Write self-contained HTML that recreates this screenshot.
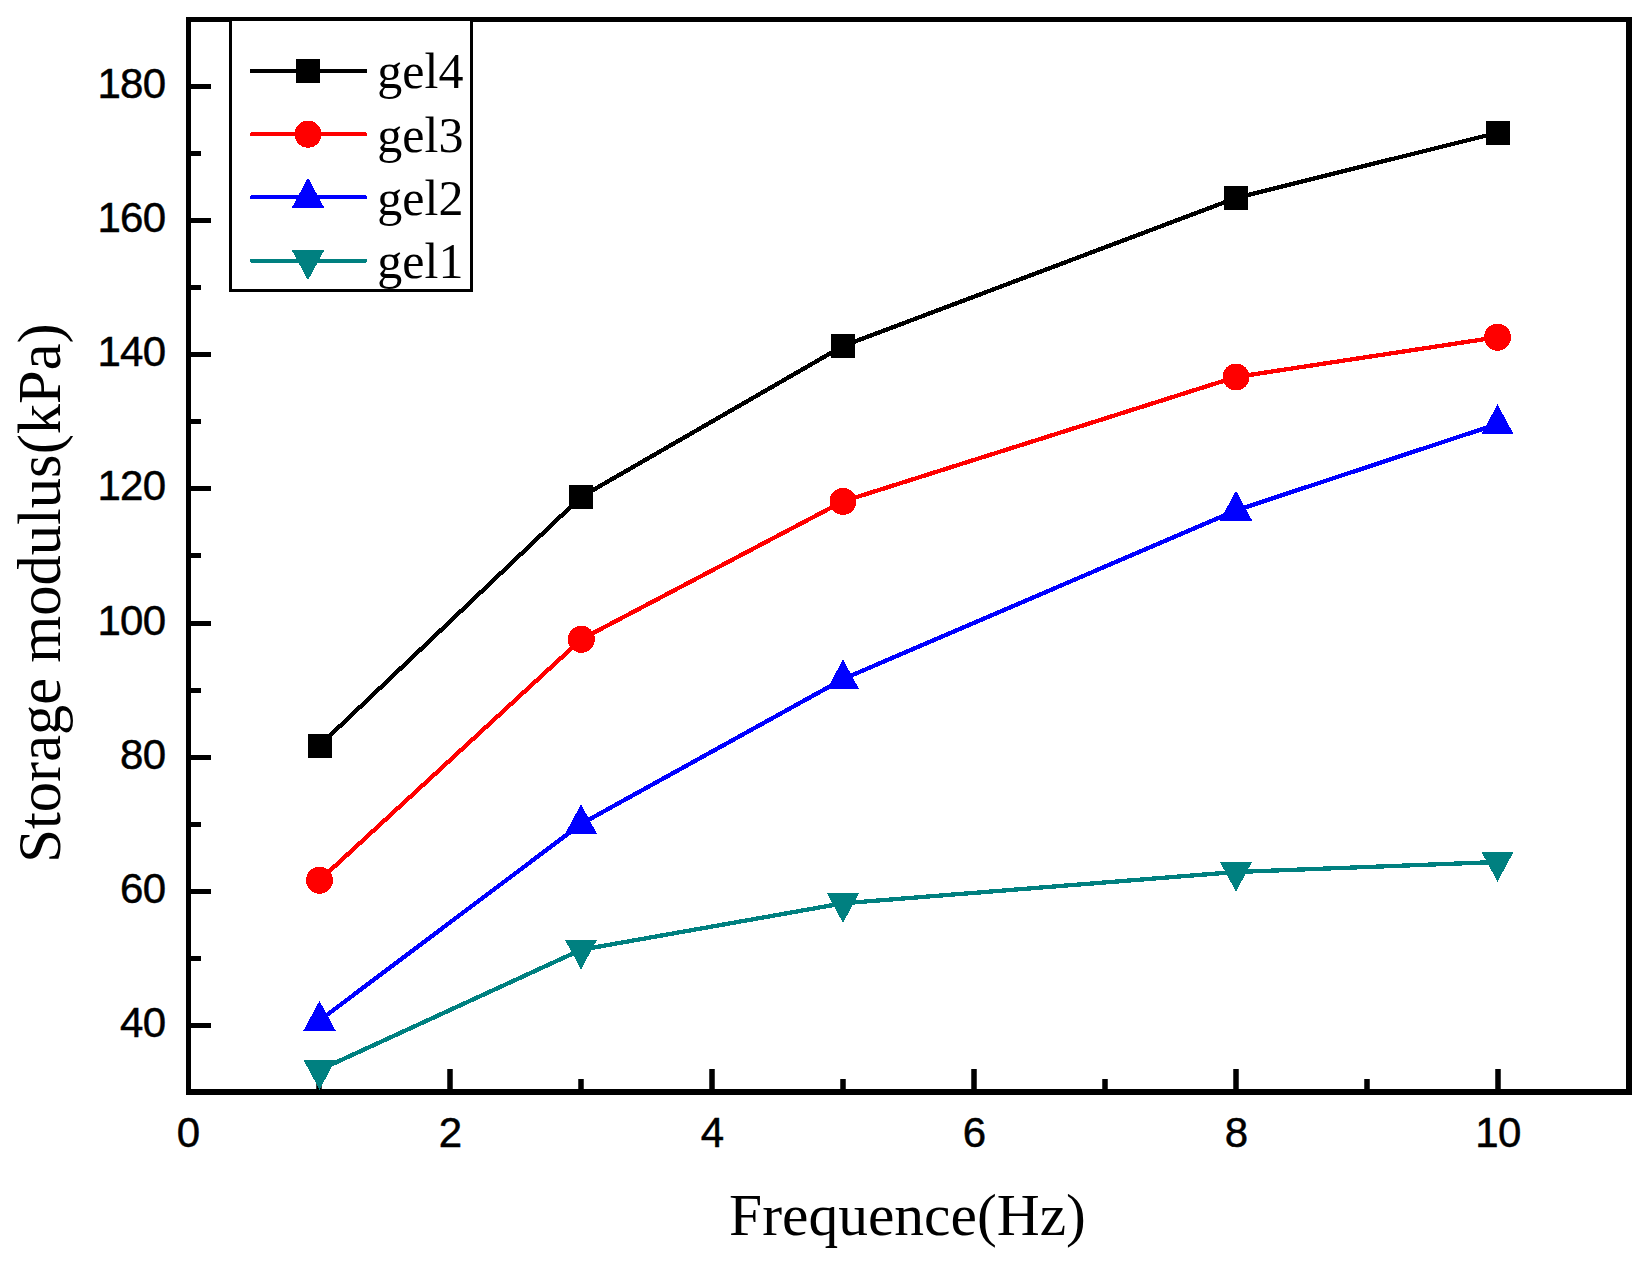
<!DOCTYPE html>
<html lang="en"><head><meta charset="utf-8"><title>Storage modulus vs Frequence</title>
<style>
html,body{margin:0;padding:0;background:#fff;}
body{width:1647px;height:1272px;overflow:hidden;}
svg{display:block;font-kerning:none;}
.tk{font-family:"Liberation Sans",Arial,sans-serif;font-size:42px;fill:#000;stroke:#000;stroke-width:0.5px;letter-spacing:-0.7px;}
.tx{font-family:"Liberation Serif","Times New Roman",serif;font-size:59.5px;fill:#000;}
.ty{font-family:"Liberation Serif","Times New Roman",serif;font-size:60.5px;fill:#000;}
.lg{font-family:"Liberation Serif","Times New Roman",serif;font-size:50px;fill:#000;}
</style></head><body>
<svg width="1647" height="1272" viewBox="0 0 1647 1272">
<rect x="0" y="0" width="1647" height="1272" fill="#fff"/>
<g fill="#000" shape-rendering="crispEdges">
<rect x="186" y="17" width="5" height="1078"/>
<rect x="186" y="17" width="1446" height="5"/>
<rect x="1626" y="17" width="6" height="1078"/>
<rect x="186" y="1089" width="1446" height="6"/>
<rect x="190" y="1023" width="21" height="5"/>
<rect x="190" y="889" width="21" height="5"/>
<rect x="190" y="755" width="21" height="5"/>
<rect x="190" y="621" width="21" height="5"/>
<rect x="190" y="486" width="21" height="5"/>
<rect x="190" y="352" width="21" height="5"/>
<rect x="190" y="218" width="21" height="5"/>
<rect x="190" y="84" width="21" height="5"/>
<rect x="190" y="956" width="11" height="5"/>
<rect x="190" y="822" width="11" height="5"/>
<rect x="190" y="688" width="11" height="5"/>
<rect x="190" y="553" width="11" height="5"/>
<rect x="190" y="419" width="11" height="5"/>
<rect x="190" y="285" width="11" height="5"/>
<rect x="190" y="151" width="11" height="5"/>
<rect x="190" y="17" width="11" height="5"/>
<rect x="447.25" y="1069" width="5.5" height="21" shape-rendering="geometricPrecision"/>
<rect x="709.25" y="1069" width="5.5" height="21" shape-rendering="geometricPrecision"/>
<rect x="971.25" y="1069" width="5.5" height="21" shape-rendering="geometricPrecision"/>
<rect x="1233.25" y="1069" width="5.5" height="21" shape-rendering="geometricPrecision"/>
<rect x="1495.25" y="1069" width="5.5" height="21" shape-rendering="geometricPrecision"/>
<rect x="316.25" y="1079" width="5.5" height="11" shape-rendering="geometricPrecision"/>
<rect x="578.25" y="1079" width="5.5" height="11" shape-rendering="geometricPrecision"/>
<rect x="840.25" y="1079" width="5.5" height="11" shape-rendering="geometricPrecision"/>
<rect x="1102.25" y="1079" width="5.5" height="11" shape-rendering="geometricPrecision"/>
<rect x="1364.25" y="1079" width="5.5" height="11" shape-rendering="geometricPrecision"/>
</g>
<g shape-rendering="crispEdges">
<g fill="none" stroke-width="4.3" stroke-linejoin="round" stroke-linecap="round">
<polyline stroke="#000000" points="319.5,745.5 581.0,497.0 843.0,346.0 1236.0,198.0 1497.5,132.8"/>
<polyline stroke="#ff0000" points="319.5,880.3 581.3,639.3 843.0,501.4 1236.0,377.0 1497.5,337.2"/>
<polyline stroke="#0000ff" points="319.5,1020.5 581.0,824.0 843.0,679.1 1236.0,510.4 1497.5,424.0"/>
<polyline stroke="#008080" points="319.5,1070.0 581.0,949.8 843.0,903.3 1236.0,872.0 1497.5,862.0"/>
</g>
<rect x="307.5" y="733.5" width="24" height="24" fill="#000000"/>
<rect x="569.0" y="485.0" width="24" height="24" fill="#000000"/>
<rect x="831.0" y="334.0" width="24" height="24" fill="#000000"/>
<rect x="1224.0" y="186.0" width="24" height="24" fill="#000000"/>
<rect x="1485.5" y="120.8" width="24" height="24" fill="#000000"/>
<circle cx="319.5" cy="880.3" r="13.5" fill="#ff0000"/>
<circle cx="581.3" cy="639.3" r="13.5" fill="#ff0000"/>
<circle cx="843.0" cy="501.4" r="13.5" fill="#ff0000"/>
<circle cx="1236.0" cy="377.0" r="13.5" fill="#ff0000"/>
<circle cx="1497.5" cy="337.2" r="13.5" fill="#ff0000"/>
<polygon points="319.5,1000.8 335.7,1030.8 303.3,1030.8" fill="#0000ff"/>
<polygon points="581.0,804.3 597.2,834.3 564.8,834.3" fill="#0000ff"/>
<polygon points="843.0,659.4 859.2,689.4 826.8,689.4" fill="#0000ff"/>
<polygon points="1236.0,490.7 1252.2,520.7 1219.8,520.7" fill="#0000ff"/>
<polygon points="1497.5,404.3 1513.7,434.3 1481.3,434.3" fill="#0000ff"/>
<polygon points="319.5,1089.7 335.7,1059.7 303.3,1059.7" fill="#008080"/>
<polygon points="581.0,969.5 597.2,939.5 564.8,939.5" fill="#008080"/>
<polygon points="843.0,923.0 859.2,893.0 826.8,893.0" fill="#008080"/>
<polygon points="1236.0,891.7 1252.2,861.7 1219.8,861.7" fill="#008080"/>
<polygon points="1497.5,881.7 1513.7,851.7 1481.3,851.7" fill="#008080"/>
</g>
<g class="tk" text-anchor="end">
<text x="165.4" y="1037.0">40</text>
<text x="165.4" y="902.9">60</text>
<text x="165.4" y="768.7">80</text>
<text x="165.4" y="634.6">100</text>
<text x="165.4" y="500.4">120</text>
<text x="165.4" y="366.3">140</text>
<text x="165.4" y="232.1">160</text>
<text x="165.4" y="98.0">180</text>
</g><g class="tk" text-anchor="middle">
<text x="188.0" y="1146.5">0</text>
<text x="450.0" y="1146.5">2</text>
<text x="712.0" y="1146.5">4</text>
<text x="974.0" y="1146.5">6</text>
<text x="1236.0" y="1146.5">8</text>
<text x="1498.0" y="1146.5">10</text>
</g>
<text class="tx" text-anchor="middle" x="907.5" y="1234.7">Frequence(Hz)</text>
<text class="ty" text-anchor="middle" transform="translate(60,593) rotate(-90)">Storage modulus(kPa)</text>
<g shape-rendering="crispEdges">
<rect x="230.5" y="19.5" width="241" height="271" fill="#fff" stroke="#000" stroke-width="3"/>
<line x1="251.5" y1="71" x2="365.5" y2="71" stroke="#000000" stroke-width="4" stroke-linecap="round"/>
<rect x="296.0" y="59.0" width="24" height="24" fill="#000000"/>
<line x1="251.5" y1="134.2" x2="365.5" y2="134.2" stroke="#ff0000" stroke-width="4" stroke-linecap="round"/>
<circle cx="308.0" cy="134.2" r="13.5" fill="#ff0000"/>
<line x1="251.5" y1="197.4" x2="365.5" y2="197.4" stroke="#0000ff" stroke-width="4" stroke-linecap="round"/>
<polygon points="308.0,177.7 324.2,207.7 291.8,207.7" fill="#0000ff"/>
<line x1="251.5" y1="260.6" x2="365.5" y2="260.6" stroke="#008080" stroke-width="4" stroke-linecap="round"/>
<polygon points="308.0,280.3 324.2,250.3 291.8,250.3" fill="#008080"/>
</g>
<text class="lg" x="377.3" y="88.3">gel4</text>
<text class="lg" x="377.3" y="151.5">gel3</text>
<text class="lg" x="377.3" y="214.7">gel2</text>
<text class="lg" x="377.3" y="277.9">gel1</text>
</svg></body></html>
